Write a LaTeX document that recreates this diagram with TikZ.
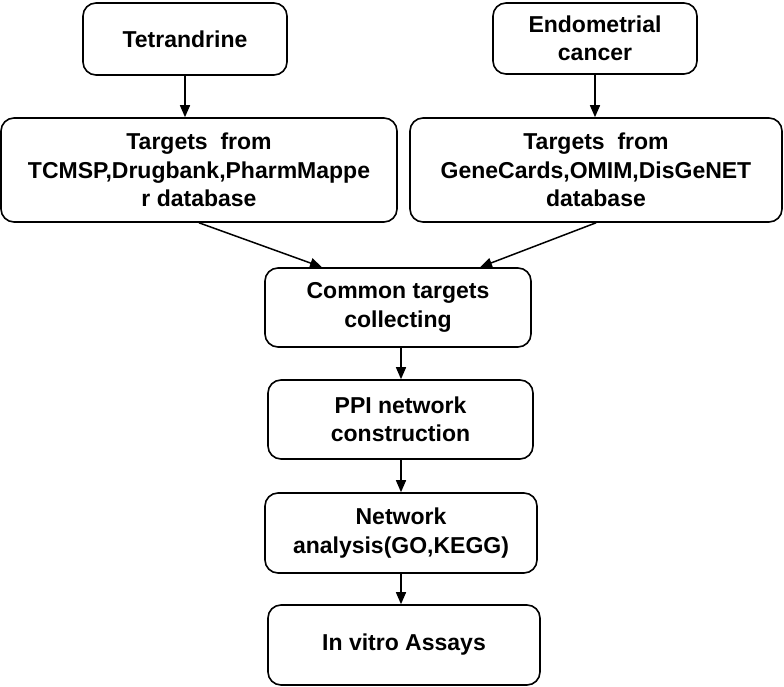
\documentclass[tikz,border=0pt]{standalone}
\usepackage{fontspec}
\setmainfont{Liberation Sans}
\usetikzlibrary{arrows.meta}
\begin{document}
\begin{tikzpicture}[x=1pt,y=-1pt,
  box/.style={draw=black,line width=1.6pt,rounded corners=13pt,align=center,
    inner sep=0pt,font=\fontsize{23}{28.3}\selectfont\bfseries},
  arr/.style={line width=1.5pt,-{Triangle[length=12pt,width=10pt]}}]
\useasboundingbox (0,0) rectangle (784,687);
\node[box,minimum width=204pt,minimum height=72pt] (tet) at (185,39) {Tetrandrine};
\node[box,minimum width=204pt,minimum height=71pt] (endo) at (595,38.5) {Endometrial\\cancer};
\node[box,minimum width=396pt,minimum height=104pt] (t1) at (199,170) {Targets\ \ from\\TCMSP,Drugbank,PharmMappe\\r database};
\node[box,minimum width=372pt,minimum height=104pt] (t2) at (596,170) {Targets\ \ from\\GeneCards,OMIM,DisGeNET\\database};
\node[box,minimum width=266pt,minimum height=79pt] (common) at (398,307.5) {Common targets\\collecting};
\node[box,minimum width=265pt,minimum height=79pt] (ppi) at (400.5,419.5) {PPI network\\construction};
\node[box,minimum width=272pt,minimum height=80pt] (net) at (401,533) {Network\\analysis(GO,KEGG)};
\node[box,minimum width=272pt,minimum height=80pt] (vitro) at (404,645) {In vitro Assays};
\draw[arr] (tet.south) -- (tet.south |- t1.north);
\draw[arr] (endo.south) -- (endo.south |- t2.north);
\draw[arr] (t1.south) -- ([xshift=-76pt]common.north);
\draw[arr] (t2.south) -- ([xshift=82pt]common.north);
\draw[arr] (common.south) ++(3pt,0) coordinate (c1) -- (c1 |- ppi.north);
\draw[arr] (ppi.south) ++(0.5pt,0) coordinate (c2) -- (c2 |- net.north);
\draw[arr] (net.south) ++(0pt,0) coordinate (c3) -- (c3 |- vitro.north);
\end{tikzpicture}
\end{document}
